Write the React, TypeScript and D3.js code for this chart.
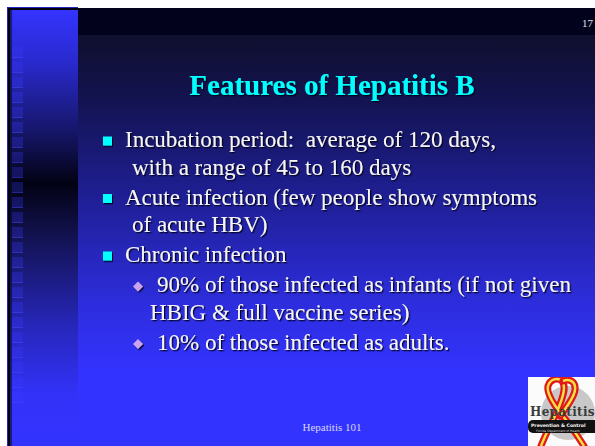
import React from "react";
import * as d3 from "d3";

// slide text
const titleText = "Features of Hepatitis B";
const slideNumber = "17";
const footerText = "Hepatitis 101";

const bulletLevels = [1, 1, 1, 2, 2];
const bulletLines = [
  ["Incubation period:  average of 120 days,", "with a range of 45 to 160 days"],
  ["Acute infection (few people show symptoms", "of acute HBV)"],
  ["Chronic infection"],
  ["90% of those infected as infants (if not given", "HBIG & full vaccine series)"],
  ["10% of those infected as adults."],
];

const W = 595;
const H = 446;
const serif = "'Liberation Serif', 'Times New Roman', serif";

export default function App() {
  // baseline for each line: fixed leading plus a small gap between paragraphs
  const lineCounts = bulletLines.map((l) => l.length);
  const startIdx = [0, ...d3.cumsum(lineCounts)].slice(0, lineCounts.length);
  const lineY = d3.scaleLinear().domain([0, 1]).range([147, 174.5]);
  const baseline = (para: number, line: number) =>
    lineY(startIdx[para] + line) + para * 2.5;

  const indent = {
    1: { bullet: 108, first: 125, rest: 132 },
    2: { bullet: 138, first: 157, rest: 150 },
  } as Record<number, { bullet: number; first: number; rest: number }>;

  const squares = d3.range(47, 396, 15);

  return (
    <svg
      width={W}
      height={H}
      style={{ position: "absolute", left: 0, top: 0, fontFamily: serif }}
    >
      <defs>
        <linearGradient id="leftGrad" gradientUnits="userSpaceOnUse" x1="0" y1="8" x2="0" y2="446">
          <stop offset="0" stopColor="#3434ff" />
          <stop offset="0.12" stopColor="#2a2ad0" />
          <stop offset="0.28" stopColor="#16166a" />
          <stop offset="0.4" stopColor="#020214" />
          <stop offset="0.52" stopColor="#121250" />
          <stop offset="0.72" stopColor="#2626b8" />
          <stop offset="0.88" stopColor="#3232f8" />
          <stop offset="1" stopColor="#3333ff" />
        </linearGradient>
        <linearGradient id="mainGrad" gradientUnits="userSpaceOnUse" x1="0" y1="35" x2="0" y2="446">
          <stop offset="0" stopColor="#0f0f2e" />
          <stop offset="0.16" stopColor="#131352" />
          <stop offset="0.4" stopColor="#1f1f96" />
          <stop offset="0.65" stopColor="#2d2ddc" />
          <stop offset="0.82" stopColor="#3333ff" />
          <stop offset="1" stopColor="#3333ff" />
        </linearGradient>
        <filter id="shadow" x="-5%" y="-20%" width="110%" height="140%">
          <feDropShadow dx="1.3" dy="1.3" stdDeviation="0.4" floodColor="#000018" floodOpacity="0.9" />
        </filter>
        <clipPath id="logoClip">
          <rect x={528} y={377} width={67} height={69} />
        </clipPath>
      </defs>

      <rect x={0} y={0} width={W} height={H} fill="#fff" />

      {/* main background */}
      <rect x={78} y={35} width={W - 78} height={H - 35} fill="url(#mainGrad)" />
      <rect x={78} y={8} width={W - 78} height={27} fill="#02021c" />

      {/* left panel */}
      <rect x={7} y={7} width={71} height={H - 7} fill="#2424c0" />
      <rect x={8} y={8} width={70} height={H - 8} fill="#000008" />
      <rect x={10} y={10} width={68} height={H - 10} fill="url(#leftGrad)" />
      <rect x={10} y={10} width={2} height={H - 10} fill="#0a0a30" opacity={0.6} />
      {squares.map((y) => (
        <g key={y}>
          <rect x={12} y={y} width={11} height={11} fill="#3a3aff" opacity={0.28} />
          <rect x={12} y={y + 10} width={11} height={1} fill="#5050ff" opacity={0.35} />
        </g>
      ))}

      {/* slide number */}
      <text x={593} y={27} fontSize={11} fill="#e0e0f0" textAnchor="end">
        {slideNumber}
      </text>

      {/* title */}
      <text
        x={332}
        y={95}
        fontSize={29}
        fontWeight="bold"
        fill="#00ffff"
        textAnchor="middle"
        filter="url(#shadow)"
      >
        {titleText}
      </text>

      {/* bullets */}
      {bulletLines.map((lines, p) => {
        const lv = indent[bulletLevels[p]];
        const b0 = baseline(p, 0);
        return (
          <g key={p}>
            {bulletLevels[p] === 1 ? (
              <rect
                x={lv.bullet - 5}
                y={b0 - 10.5}
                width={9}
                height={9}
                fill="#00ffff"
                filter="url(#shadow)"
              />
            ) : (
              <path
                d={`M${lv.bullet},${b0 - 10.5} l5,5 l-5,5 l-5,-5 Z`}
                fill="#c9a2f0"
                filter="url(#shadow)"
              />
            )}
            {lines.map((t, i) => (
              <text
                key={i}
                x={i === 0 ? lv.first : lv.rest}
                y={baseline(p, i)}
                fontSize={23}
                fill="#f6f6f6"
                filter="url(#shadow)"
                style={{ whiteSpace: "pre" }}
              >
                {t}
              </text>
            ))}
          </g>
        );
      })}

      {/* footer */}
      <text x={332} y={431} fontSize={11} fill="#d8d8f8" textAnchor="middle">
        {footerText}
      </text>

      {/* logo */}
      <g clipPath="url(#logoClip)">
        <rect x={528} y={377} width={67} height={69} fill="#fbfbfb" />
        <circle cx={568} cy={413} r={27} fill="#c8c8c8" />
        <path
          d="M541,446 C548,428 556,416 560,404 C564,394 566,386 562,381 C558,377 550,379 548,386 C546,394 556,408 566,420 C574,430 580,440 584,446"
          fill="none"
          stroke="#e01818"
          strokeWidth={7}
          strokeLinecap="round"
        />
        <path
          d="M541,446 C548,428 556,416 560,404 C564,394 566,386 562,381 C558,377 550,379 548,386 C546,394 556,408 566,420 C574,430 580,440 584,446"
          fill="none"
          stroke="#f4e040"
          strokeWidth={2.5}
        />
        <path
          d="M563,381 C570,378 576,382 575,390 C574,398 566,408 560,416"
          fill="none"
          stroke="#e01818"
          strokeWidth={7}
          strokeLinecap="round"
        />
        <path
          d="M563,381 C570,378 576,382 575,390 C574,398 566,408 560,416"
          fill="none"
          stroke="#f4e040"
          strokeWidth={2.5}
        />
        <text
          x={530}
          y={416}
          fontSize={12}
          fontWeight="bold"
          fontFamily="'DejaVu Serif', serif"
          fill="#3a3a3a"
          letterSpacing={0.3}
        >
          Hepatitis
        </text>
        <rect x={528} y={420} width={80} height={13} rx={5} fill="#111" />
        <text x={531} y={427} fontSize={4.6} fontWeight="bold" fontFamily="'DejaVu Sans', sans-serif" fill="#fff">
          Prevention &amp; Control
        </text>
        <text x={536} y={431.5} fontSize={3} fontFamily="'DejaVu Sans', sans-serif" fill="#ddd">
          Florida Department of Health
        </text>
      </g>
    </svg>
  );
}
